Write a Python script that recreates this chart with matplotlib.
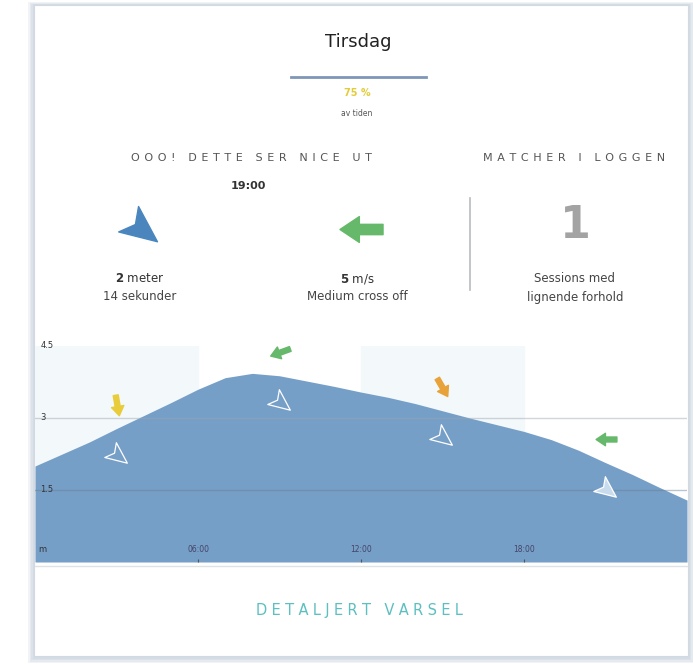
import numpy as np
import matplotlib
matplotlib.use("Agg")
import matplotlib.pyplot as plt
from matplotlib.path import Path
from matplotlib.markers import MarkerStyle
from matplotlib.transforms import Affine2D
from matplotlib.patches import Rectangle

# wave height over the day (hours, meters)
hours = list(range(25))
height = [2.0, 2.25, 2.5, 2.78, 3.05, 3.32, 3.6, 3.84, 3.93, 3.88, 3.77, 3.66, 3.54,
          3.43, 3.3, 3.15, 3.0, 2.86, 2.72, 2.55, 2.33, 2.07, 1.82, 1.55, 1.29]

# icons along the chart
icon_hours = [3, 9, 15, 21]
wind_angle = [-80, 200, -60, 180]
wind_color = ["#e8cc3a", "#66b86a", "#e8a23a", "#66b86a"]
swell_angle = [-38, -38, -38, -38]
swell_fill = ["none", "none", "none", "#c9dcee"]

ytick_vals = [1.5, 3, 4.5]
ytick_labels = ["1.5", "3", "4.5"]
xtick_vals = [6, 12, 18]
xtick_labels = ["06:00", "12:00", "18:00"]
shade_bands = [(0, 6), (12, 18)]

W, H = 693, 664
fig = plt.figure(figsize=(W / 100, H / 100), dpi=100)
fig.patch.set_facecolor("white")

def fx(x):
    return x / W

def fy(y):
    return 1 - y / H

# card with a soft shadow
card = fig.add_axes([0, 0, 1, 1])
card.set_xlim(0, W)
card.set_ylim(H, 0)
card.axis("off")
for g in [6, 4.5, 3, 1.5]:
    card.add_patch(Rectangle((34 - g, 5 - g * 0.5), 654 + 2 * g, 652 + g * 1.5,
                             facecolor="#b9c6d6", edgecolor="none", alpha=0.2))
card.add_patch(Rectangle((34, 5), 654, 651, facecolor="white", edgecolor="#d3d9e1", lw=0.8))
card.plot([291, 426], [77, 77], color="#7f96b8", lw=2)
card.plot([470, 470], [198, 290], color="#b8bcc0", lw=1.2)
card.plot([35, 687], [566, 566], color="#dfe2e5", lw=1)

def spaced(s, sep):
    return sep.join(s)

def txt(x, y, s, **kw):
    kw.setdefault("ha", "center")
    kw.setdefault("va", "center")
    kw.setdefault("color", "#333333")
    fig.text(fx(x), fy(y), s, **kw)

txt(358, 42, "Tirsdag", fontsize=13, color="#222222")
txt(357, 93, "75 %", fontsize=7, color="#e3cc3a", fontweight="bold")
txt(357, 114, "av tiden", fontsize=5.5, color="#555555")
txt(251, 158, spaced("OOO! DETTE SER NICE UT", " \u200a"), fontsize=8, color="#555555")
txt(248, 186, "19:00", fontsize=8, fontweight="bold", color="#333333")
txt(574, 158, spaced("MATCHER I LOGGEN", " \u200a"), fontsize=8, color="#555555")
txt(575, 226, "1", fontsize=32, fontweight="bold", color="#a3a3a3")

txt(140, 279, r"$\bf{2}$ meter", fontsize=8.5, color="#333333")
txt(140, 297, "14 sekunder", fontsize=8.5, color="#444444")
txt(357, 279, r"$\bf{5}$ m/s", fontsize=8.5, color="#333333")
txt(357, 297, "Medium cross off", fontsize=8.5, color="#444444")
txt(575, 279, "Sessions med", fontsize=8.5, color="#444444")
txt(575, 297, "lignende forhold", fontsize=8.5, color="#444444")
txt(359, 610, spaced("DETALJERT VARSEL", "\u2009\u200a"), fontsize=10.5, color="#5cbfc0")

# icon shapes
arrow_path = Path([(-1, -0.24), (0.1, -0.24), (0.1, -0.6), (1, 0), (0.1, 0.6),
                   (0.1, 0.24), (-1, 0.24), (-1, -0.24)],
                  [Path.MOVETO] + [Path.LINETO] * 6 + [Path.CLOSEPOLY])
head_path = Path([(1, 0), (-0.7, 0.75), (-0.3, 0), (-0.7, -0.75), (1, 0)],
                 [Path.MOVETO, Path.LINETO, Path.LINETO, Path.LINETO, Path.CLOSEPOLY])

def mk(path, ang):
    return MarkerStyle(path, transform=Affine2D().rotate_deg(ang))

card.plot([140], [228], marker=mk(head_path, -38), ms=31, color="#4a86bd", mec="#4a86bd", ls="none")
card.plot([361], [229], marker=mk(arrow_path, 180), ms=31, color="#66b86a", mec="#66b86a", ls="none")

# chart
ax = fig.add_axes([fx(35), fy(562), fx(687) - fx(35), fy(346) - fy(562)])
ax.set_xlim(0, 24)
ax.set_ylim(0, 4.5)
for a, b in shade_bands:
    ax.axvspan(a, b, color="#f3f8fa", zorder=0)
ax.fill_between(hours, height, 0, color="#769fc8", lw=0, zorder=1)
for v in ytick_vals[:2]:
    ax.axhline(v, color="#6a7d90" if v == 1.5 else "#9aa5b0", lw=1, alpha=0.45, zorder=2)
for v, lab in zip(ytick_vals, ytick_labels):
    ax.text(0.2, v, lab, fontsize=6, color="#333333", ha="left", va="center", zorder=3)
ax.text(0.12, 0.27, "m", fontsize=6, color="#333333", ha="left", va="center", zorder=3)
for v, lab in zip(xtick_vals, xtick_labels):
    ax.text(v, 0.27, lab, fontsize=5.5, color="#444466", ha="center", va="center", zorder=3)
ax.set_xticks(xtick_vals)
ax.tick_params(axis="x", length=2, width=0.8, color="#555555", direction="in", labelbottom=False)
ax.set_yticks([])
for s in ax.spines.values():
    s.set_visible(False)

base = np.interp(icon_hours, hours, height)
for h, b, wa, wc, sa, sf in zip(icon_hours, base, wind_angle, wind_color, swell_angle, swell_fill):
    ax.plot([h], [b + 0.5], marker=mk(arrow_path, wa), ms=15, color=wc, mec=wc, ls="none", zorder=4)
    ax.plot([h], [b - 0.55], marker=mk(head_path, sa), ms=18, mfc=sf, mec="white",
            mew=0.9, ls="none", zorder=4)

fig.savefig("out.png", dpi=100, facecolor=fig.get_facecolor())
